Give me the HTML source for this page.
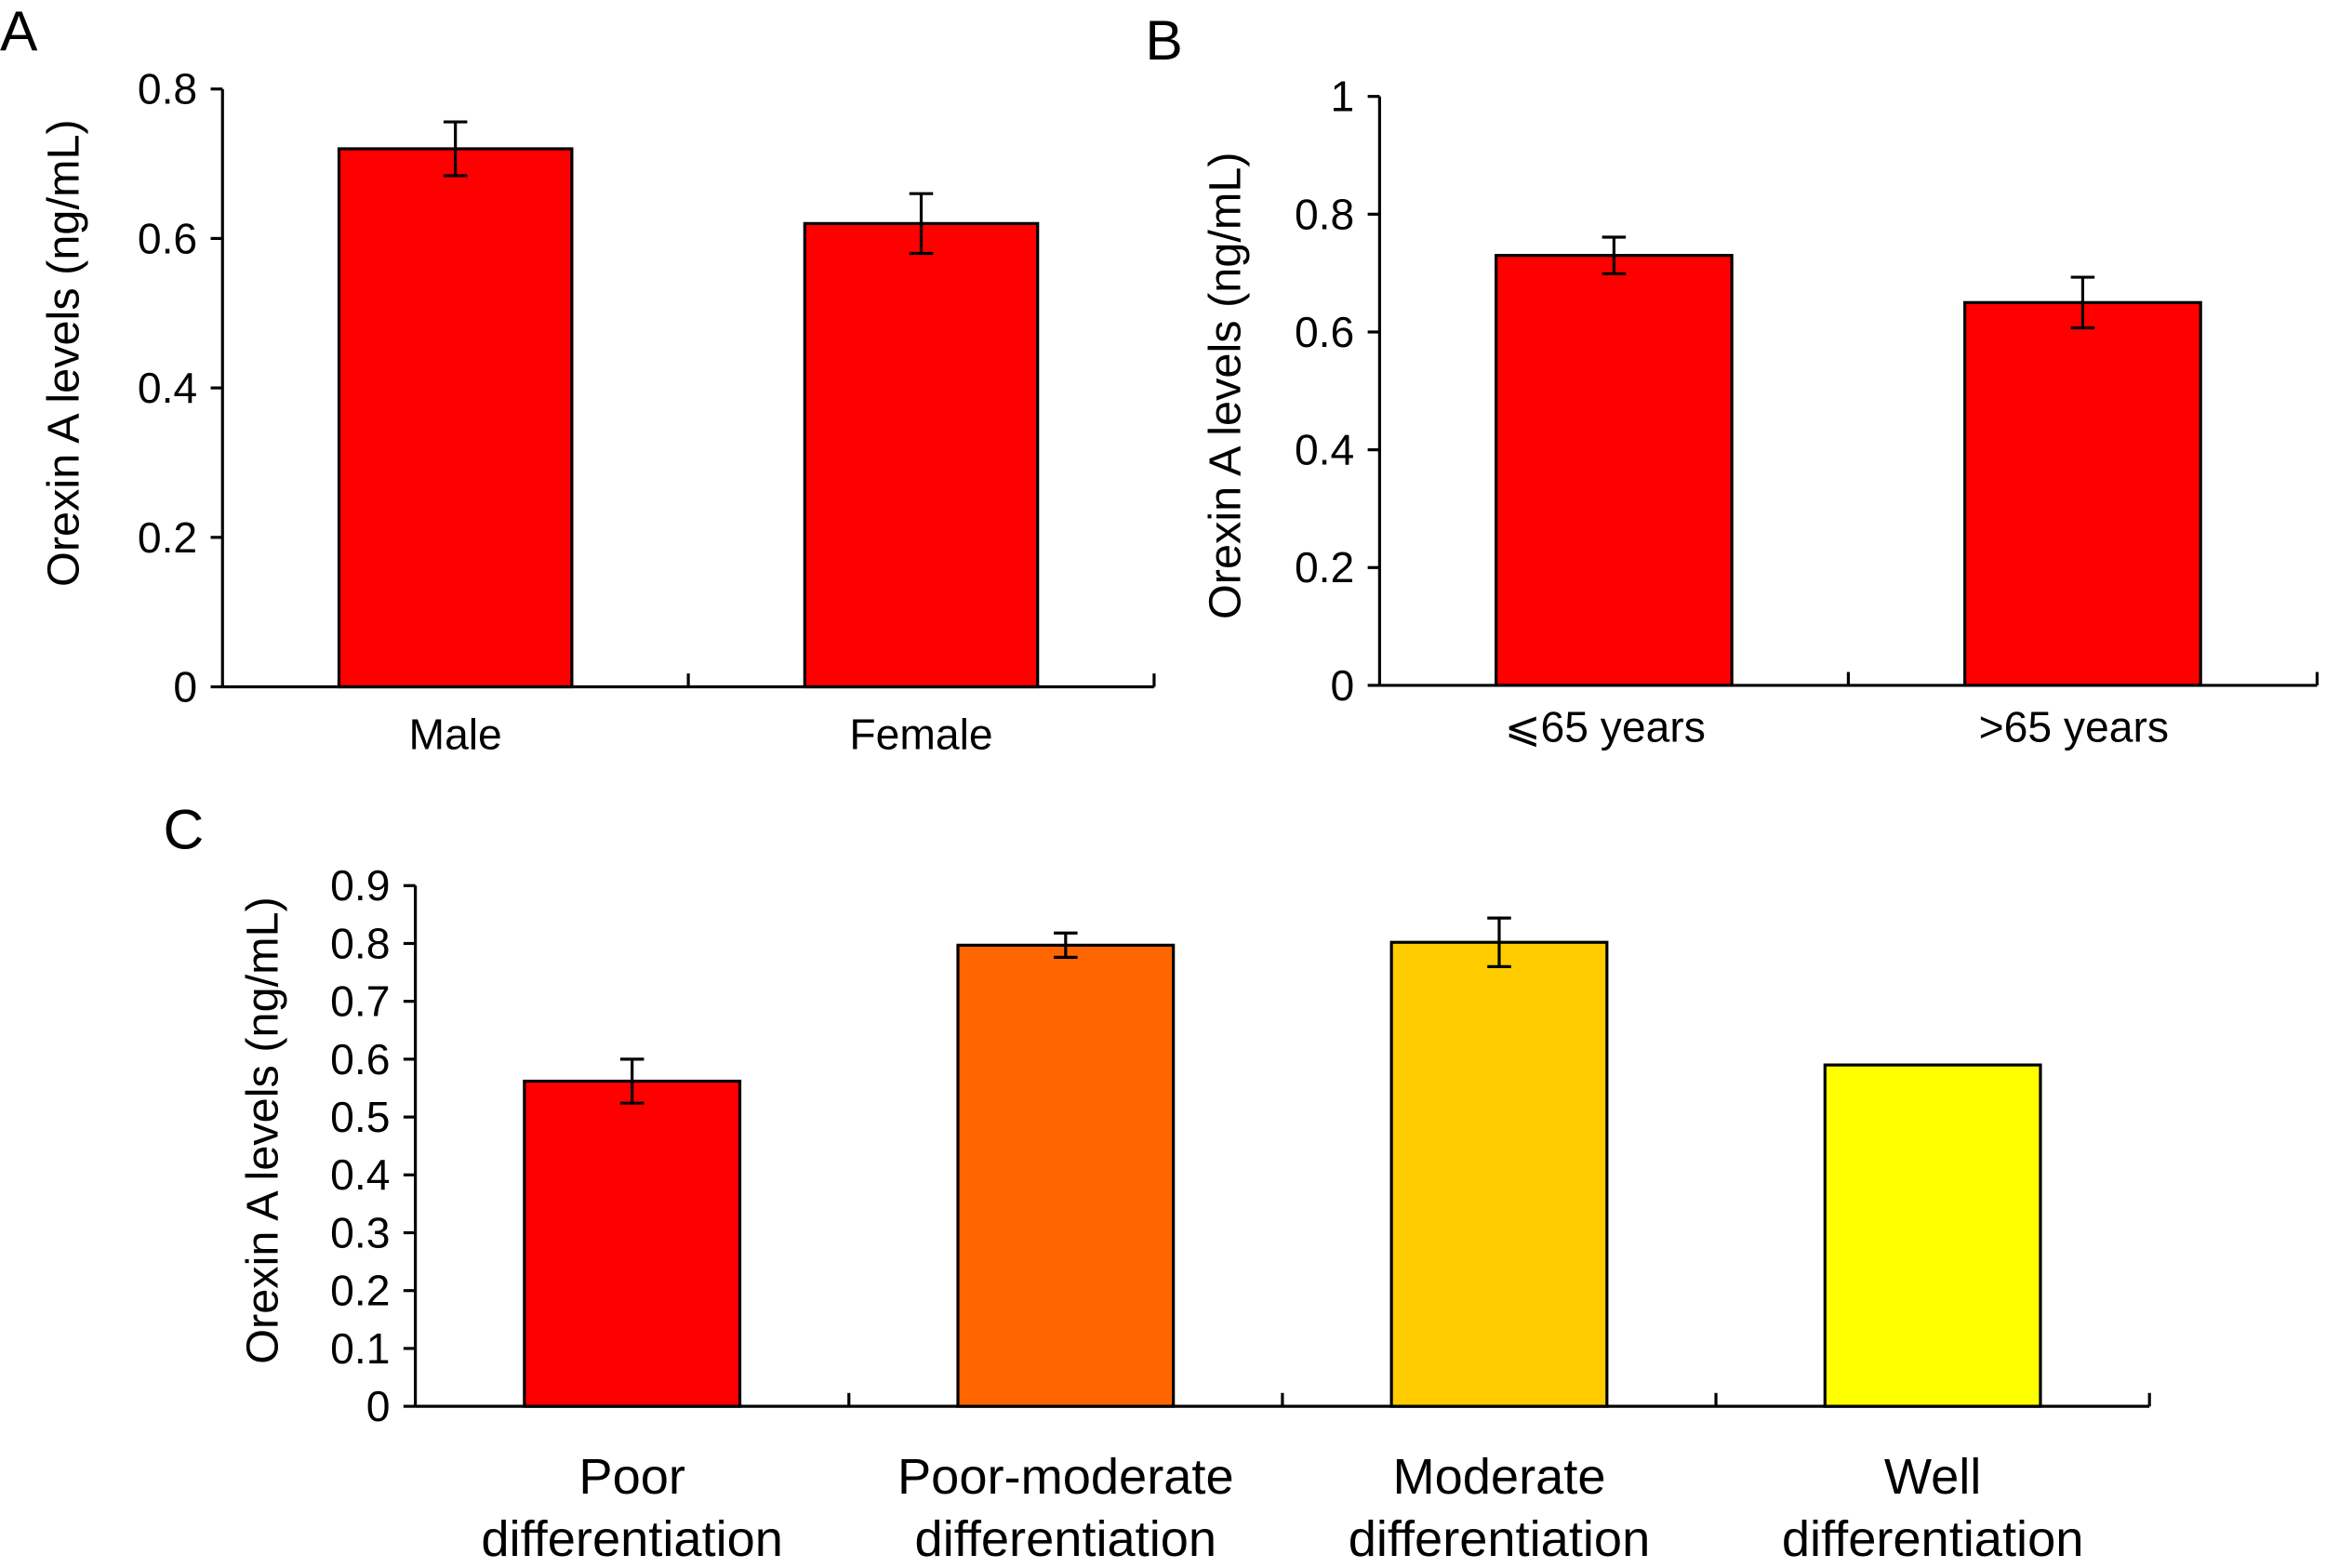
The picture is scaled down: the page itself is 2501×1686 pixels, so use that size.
<!DOCTYPE html>
<html><head><meta charset="utf-8"><style>
html,body{margin:0;padding:0;background:#fff}
svg{display:block}
text{font-family:"Liberation Sans",Arial,sans-serif;fill:#000}
</style></head><body>
<svg id="chart" width="2501" height="1686" viewBox="0 0 1568 1057" preserveAspectRatio="none" xmlns="http://www.w3.org/2000/svg"></svg>
<script>
const catsA = ["Male", "Female"];
const valsA = [0.72, 0.62];
const errsA = [0.036, 0.04];
const ticksA = [0, 0.2, 0.4, 0.6, 0.8];
const tickLabelsA = ["0", "0.2", "0.4", "0.6", "0.8"];

const catsB = ["\u2A7D65 years", ">65 years"];
const valsB = [0.73, 0.65];
const errsB = [0.031, 0.043];
const ticksB = [0, 0.2, 0.4, 0.6, 0.8, 1];
const tickLabelsB = ["0", "0.2", "0.4", "0.6", "0.8", "1"];

const catsC = [["Poor","differentiation"],["Poor-moderate","differentiation"],["Moderate","differentiation"],["Well","differentiation"]];
const valsC = [0.562, 0.797, 0.802, 0.59];
const errsC = [0.038, 0.021, 0.042, 0];
const colorsC = ["#ff0000","#ff6600","#ffcc00","#ffff00"];
const ticksC = [0,0.1,0.2,0.3,0.4,0.5,0.6,0.7,0.8,0.9];
const tickLabelsC = ["0","0.1","0.2","0.3","0.4","0.5","0.6","0.7","0.8","0.9"];

const svg = document.getElementById('chart');
const NS = "http://www.w3.org/2000/svg";
function mk(tag, attrs, parent){
  const e = document.createElementNS(NS, tag);
  for (const k in attrs) e.setAttribute(k, attrs[k]);
  (parent||svg).appendChild(e);
  return e;
}

function panel(cfg){
  const g = mk('g', {});
  
  
  const y = v => cfg.y0 - v / cfg.ymax * (cfg.y0 - cfg.yTop);
  const n = cfg.cats.length;
  const gw = (cfg.x1 - cfg.x0) / n;
  const xc = i => cfg.x0 + gw * (i + 0.5);
  cfg.vals.forEach((v, i) => {
    const r = mk('rect', {x: xc(i) - gw*cfg.bw/2, y: y(v), width: gw*cfg.bw, height: cfg.y0 - y(v),
      fill: cfg.colors ? cfg.colors[i] : '#ff0000', stroke: '#000', 'stroke-width': 2}, g);
    
    
    const e = cfg.errs[i];
    if (e > 0) {
      const eg = mk('g', {stroke: '#000', 'stroke-width': 2}, g);
      
      
      mk('line', {x1: xc(i), x2: xc(i), y1: y(v+e), y2: y(v-e)}, eg);
      mk('line', {x1: xc(i)-8, x2: xc(i)+8, y1: y(v+e), y2: y(v+e)}, eg);
      mk('line', {x1: xc(i)-8, x2: xc(i)+8, y1: y(v-e), y2: y(v-e)}, eg);
    }
  });
  const ax = mk('g', {stroke: '#000', 'stroke-width': 2}, g);
  
  
  mk('line', {x1: cfg.x0, x2: cfg.x0, y1: cfg.y0, y2: y(cfg.ymax)}, ax);
  mk('line', {x1: cfg.x0, x2: cfg.x1, y1: cfg.y0, y2: cfg.y0}, ax);
  for (let i = 1; i <= n; i++) mk('line', {x1: cfg.x0 + gw*i, x2: cfg.x0 + gw*i, y1: cfg.y0, y2: cfg.y0 - 9}, ax);
  cfg.ticks.forEach((t, i) => {
    mk('line', {x1: cfg.x0 - 8, x2: cfg.x0, y1: y(t), y2: y(t)}, ax);
    const tx = mk('text', {x: cfg.x0 - 17, y: y(t) + 10, 'text-anchor': 'end', 'font-size': 29}, g);
    tx.textContent = cfg.tickLabels[i];
    
    
  });
  cfg.cats.forEach((c, i) => {
    const lines = Array.isArray(c) ? c : [c];
    lines.forEach((l, j) => {
      const tx = mk('text', {x: xc(i) + (cfg.catDx||0), y: cfg.labelY + j*42, 'text-anchor': 'middle', 'font-size': cfg.catSize}, g);
      tx.textContent = l;
      
      
    });
  });
  const yt = mk('text', {x: 0, y: 0, 'text-anchor': 'middle', 'font-size': 30.5,
    transform: `translate(${cfg.titleX},${cfg.titleY}) rotate(-90)`}, g);
  yt.textContent = 'Orexin A levels (ng/mL)';
  
  
  const pl = mk('text', {x: cfg.letterX, y: cfg.letterY, 'font-size': 38}, g);
  pl.textContent = cfg.letter;
  
  
}

panel({name:'panel-a', letter:'A', letterX:0, letterY:34, cats:catsA, vals:valsA, errs:errsA,
  ticks:ticksA, tickLabels:tickLabelsA, x0:150, x1:778, y0:463, yTop:60, ymax:0.8, bw:0.5,
  labelY:505, catSize:29, titleX:53, titleY:238});
panel({name:'panel-b', letter:'B', letterX:772, letterY:40, cats:catsB, vals:valsB, errs:errsB,
  ticks:ticksB, tickLabels:tickLabelsB, x0:930, x1:1562, y0:462, yTop:65, ymax:1, bw:0.503,
  labelY:500, catSize:29, titleX:836, titleY:260, catDx:-6});
panel({name:'panel-c', letter:'C', letterX:110, letterY:572, cats:catsC, vals:valsC, errs:errsC, colors:colorsC,
  ticks:ticksC, tickLabels:tickLabelsC, x0:280, x1:1449, y0:948, yTop:597, ymax:0.9, bw:0.497,
  labelY:1007, catSize:34, titleX:187, titleY:762});
</script>
</body></html>
